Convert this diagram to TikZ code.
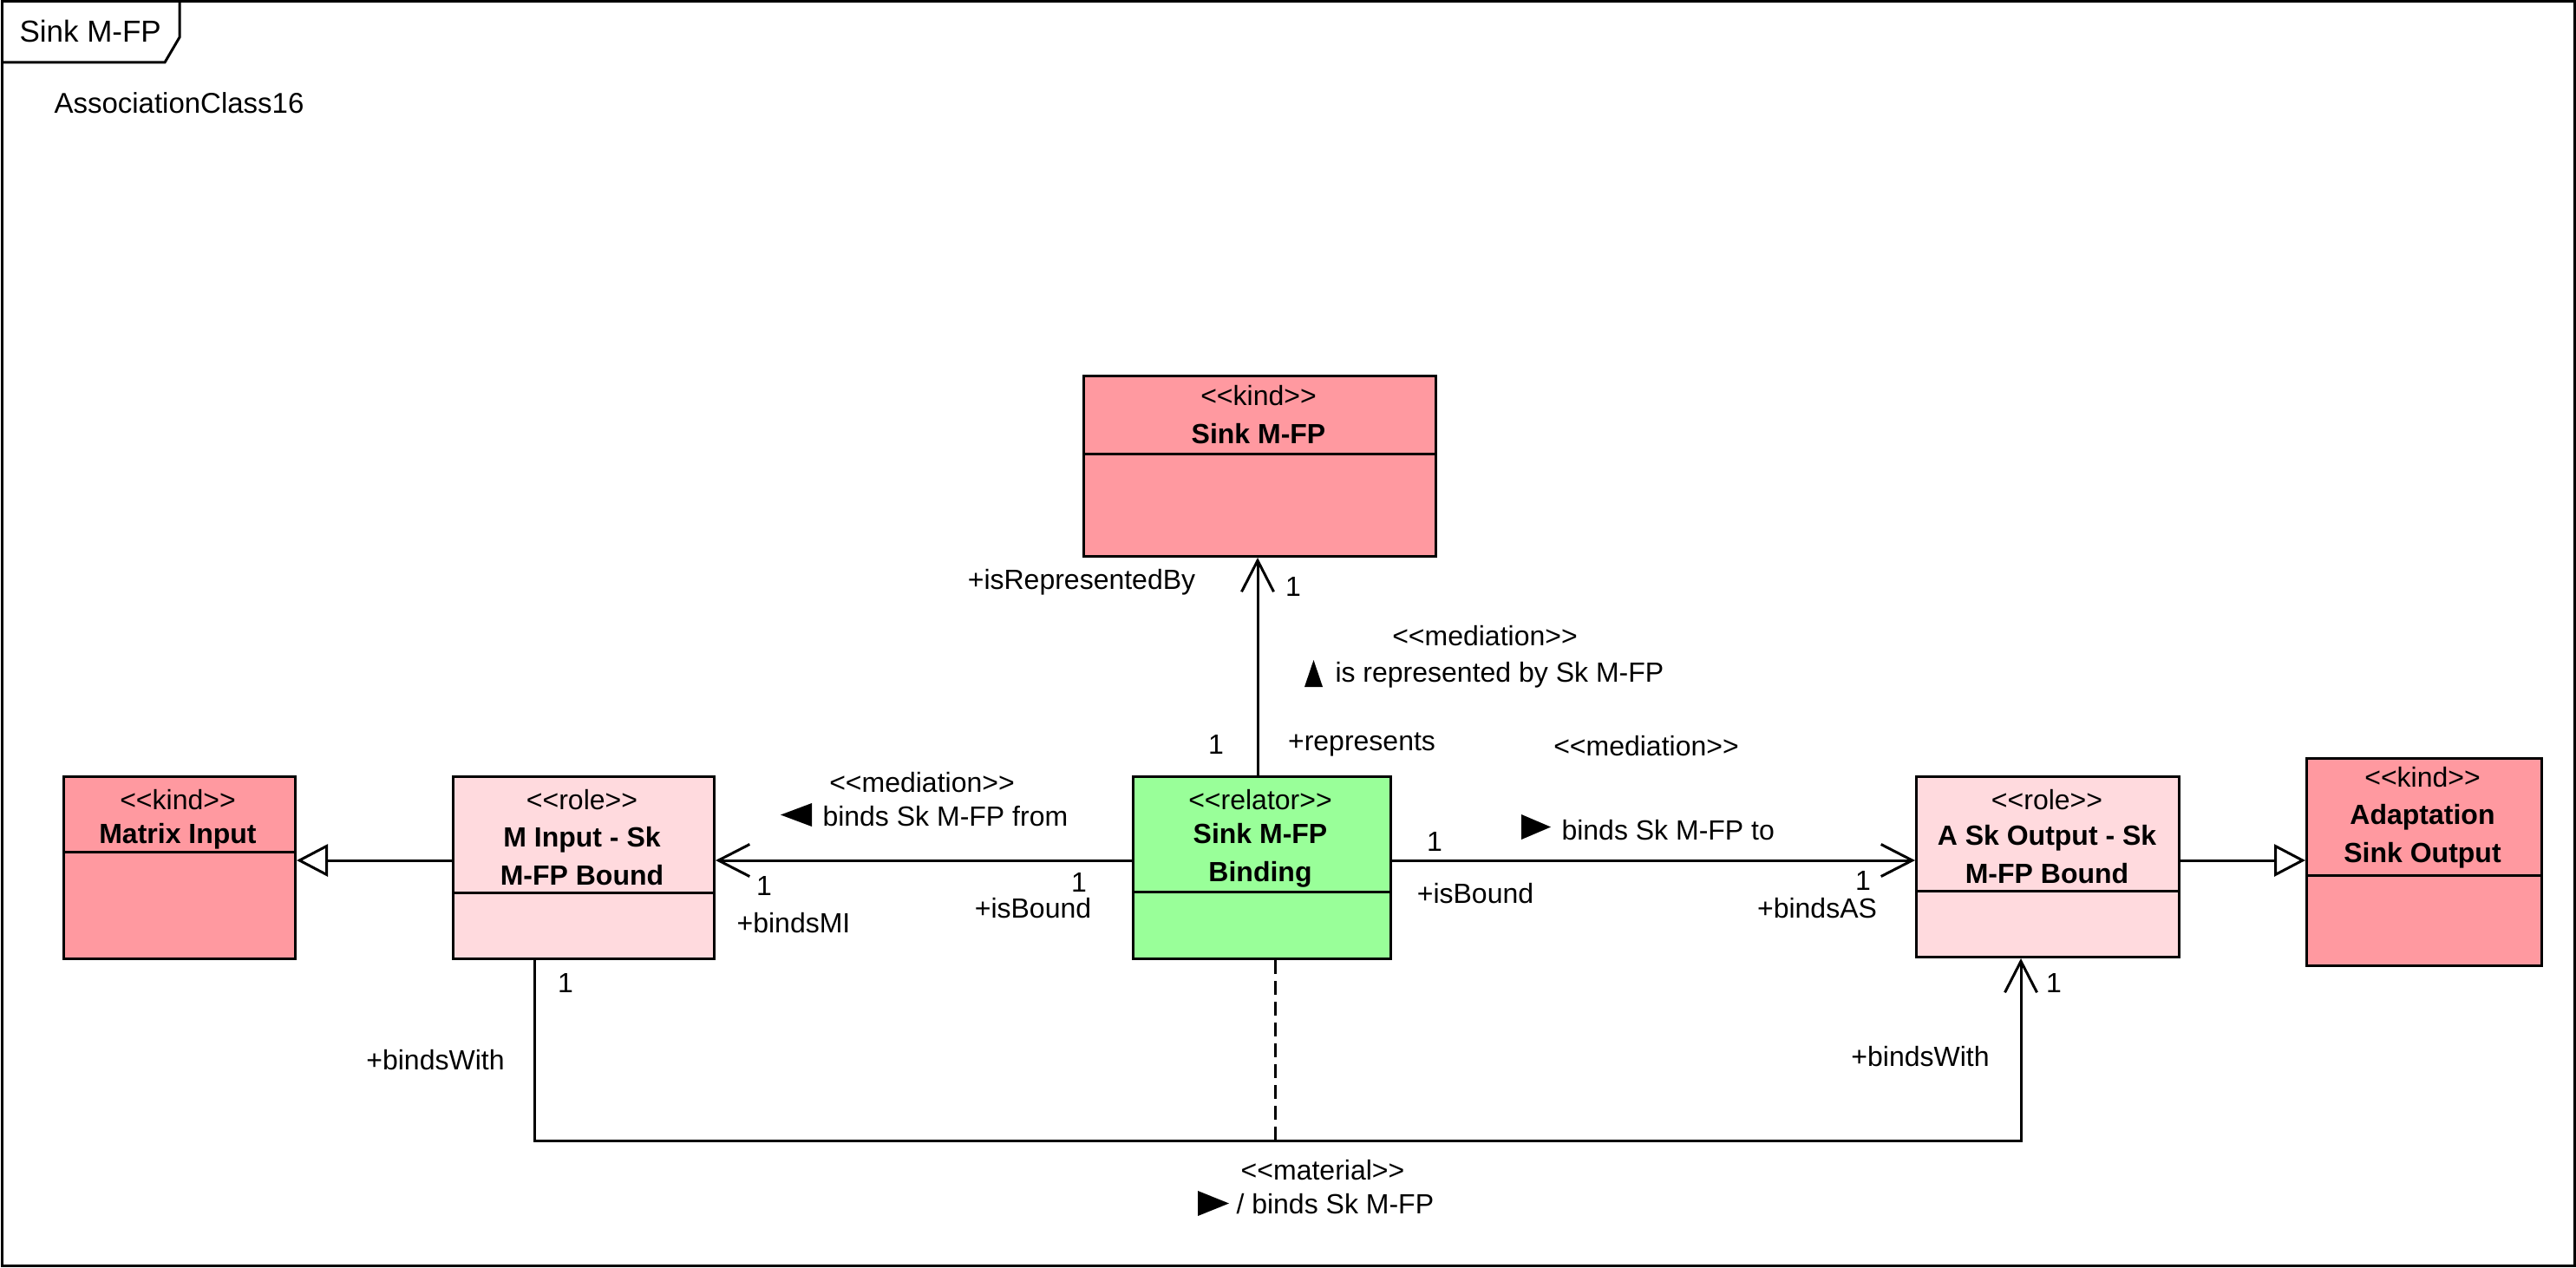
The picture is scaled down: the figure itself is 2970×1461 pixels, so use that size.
\documentclass[tikz,border=0pt]{standalone}
\usepackage{fontspec}
\setmainfont{Liberation Sans}
\usetikzlibrary{arrows.meta}
\definecolor{kindc}{RGB}{255,153,160}
\definecolor{rolec}{RGB}{255,218,222}
\definecolor{relc}{RGB}{153,255,153}
\newcommand\stereo[1]{<\kern0pt<#1>\kern0pt>}
\newcommand\fsz{\fontsize{32}{44}\selectfont}
\begin{document}
\begin{tikzpicture}[x=1pt,y=-1pt,line width=3pt,
  cls/.style={draw,line width=3pt,inner sep=0pt,anchor=north west},
  lbl/.style={font=\fsz,inner sep=0pt},
  nm/.style={font=\fsz\bfseries,inner sep=0pt,align=center},
  assoc/.style={-{Straight Barb[length=36pt,width=37pt]}},
  gen/.style={-{Triangle[open,length=36pt,width=37pt,fill=white]}},
  matline/.style={dash pattern=on 16pt off 8pt}]
\useasboundingbox (0,0) rectangle (2970,1461);
% frame
\draw (2,2) rectangle (2968,1459);
\draw (2,72) -- (190,72) -- (207,43) -- (207,2);
\node[lbl,font=\fontsize{35}{42}\selectfont,anchor=west] (title) at (21,36) {Sink M-FP};
\node[lbl,font=\fontsize{33}{40}\selectfont,anchor=west] (acl) at (61,119) {AssociationClass16};
% classes
\node[cls,fill=kindc,minimum width=406,minimum height=208] (sink) at (1248,432) {};
\draw (sink.west |- 0,523) -- (sink.east |- 0,523);
\node[lbl] (sinkst) at (1451,456) {\stereo{kind}};
\node[nm] (sinknm) at (1451,500) {Sink M-FP};

\node[cls,fill=kindc,minimum width=267,minimum height=210] (mi) at (72,894) {};
\draw (mi.west |- 0,982) -- (mi.east |- 0,982);
\node[lbl] (mist) at (205,922) {\stereo{kind}};
\node[nm] (minm) at (205,964) {Matrix Input};

\node[cls,fill=rolec,minimum width=301,minimum height=210] (mir) at (521,894) {};
\draw (mir.west |- 0,1029) -- (mir.east |- 0,1029);
\node[lbl] (mirst) at (671,922) {\stereo{role}};
\node[nm] (mirnm) at (671,987) {M Input - Sk\\M-FP Bound};

\node[cls,fill=relc,minimum width=297,minimum height=210] (bind) at (1305,894) {};
\draw (bind.west |- 0,1028) -- (bind.east |- 0,1028);
\node[lbl] (bindst) at (1453,922) {\stereo{relator}};
\node[nm] (bindnm) at (1453,986) {Sink M-FP\\Binding};

\node[cls,fill=rolec,minimum width=303,minimum height=208] (asr) at (2208,894) {};
\draw (asr.west |- 0,1027) -- (asr.east |- 0,1027);
\node[lbl] (asrst) at (2360,922) {\stereo{role}};
\node[nm] (asrnm) at (2360,985) {A Sk Output - Sk\\M-FP Bound};

\node[cls,fill=kindc,minimum width=271,minimum height=239] (adp) at (2658,873) {};
\draw (adp.west |- 0,1009) -- (adp.east |- 0,1009);
\node[lbl] (adpst) at (2793,896) {\stereo{kind}};
\node[nm] (adpnm) at (2793,964) {Adaptation\\Sink Output};

% connectors
\coordinate (hy) at (0,992);
\coordinate (vx) at (1450,0);
\coordinate (bl) at (616,1315);
\coordinate (br) at (2330,1315);
\coordinate (dm) at (1470,1315);
\draw[assoc] (bind.north -| vx) -- (sink.south -| vx);
\draw[assoc] (bind.west |- hy) -- (mir.east |- hy);
\draw[assoc] (bind.east |- hy) -- (asr.west |- hy);
\draw[gen] (mir.west |- hy) -- (mi.east |- hy);
\draw[gen] (asr.east |- hy) -- (adp.west |- hy);
\draw[assoc] (mir.south -| bl) -- (bl) -- (br) -- (asr.south -| br);
\draw[matline] (bind.south -| dm) -- (dm);

% labels: represents
\node[lbl] (l1) at (1247,671) {+isRepresentedBy};
\node[lbl] (l2) at (1491,676) {1};
\node[lbl] (l3) at (1402,858) {1};
\node[lbl] (l4) at (1570,858) {+represents};
\node[lbl] (l5) at (1712,733) {\stereo{mediation}};
\fill (1504,792) -- (1525,792) -- (1514.5,761) -- cycle;
\node[lbl,anchor=west] (l6) at (1538,778) {is represented by Sk M-FP};
% left mediation
\node[lbl] (l7) at (1063,902) {\stereo{mediation}};
\fill (900,939.5) -- (936,926) -- (936,953) -- cycle;
\node[lbl,anchor=west] (l8) at (947,941) {binds Sk M-FP from};
\node[lbl] (l9) at (1244,1017) {1};
\node[lbl] (l10) at (1191,1047) {+isBound};
\node[lbl] (l11) at (881,1021) {1};
\node[lbl] (l12) at (915,1064) {+bindsMI};
% right mediation
\node[lbl] (l13) at (1898,860) {\stereo{mediation}};
\fill (1754,939) -- (1754,968) -- (1788,953.5) -- cycle;
\node[lbl,anchor=west] (l14) at (1799,957) {binds Sk M-FP to};
\node[lbl] (l15) at (1654,970) {1};
\node[lbl] (l16) at (1701,1030) {+isBound};
\node[lbl] (l17) at (2148,1015) {1};
\node[lbl] (l18) at (2095,1047) {+bindsAS};
% material
\node[lbl] (l19) at (652,1133) {1};
\node[lbl] (l20) at (502,1222) {+bindsWith};
\node[lbl] (l21) at (2368,1133) {1};
\node[lbl] (l22) at (2214,1218) {+bindsWith};
\node[lbl] (l23) at (1525,1349) {\stereo{material}};
\fill (1381,1373) -- (1381,1402) -- (1417,1387.5) -- cycle;
\node[lbl,anchor=west] (l24) at (1424,1388) {/ binds Sk M-FP};
\end{tikzpicture}
\end{document}
